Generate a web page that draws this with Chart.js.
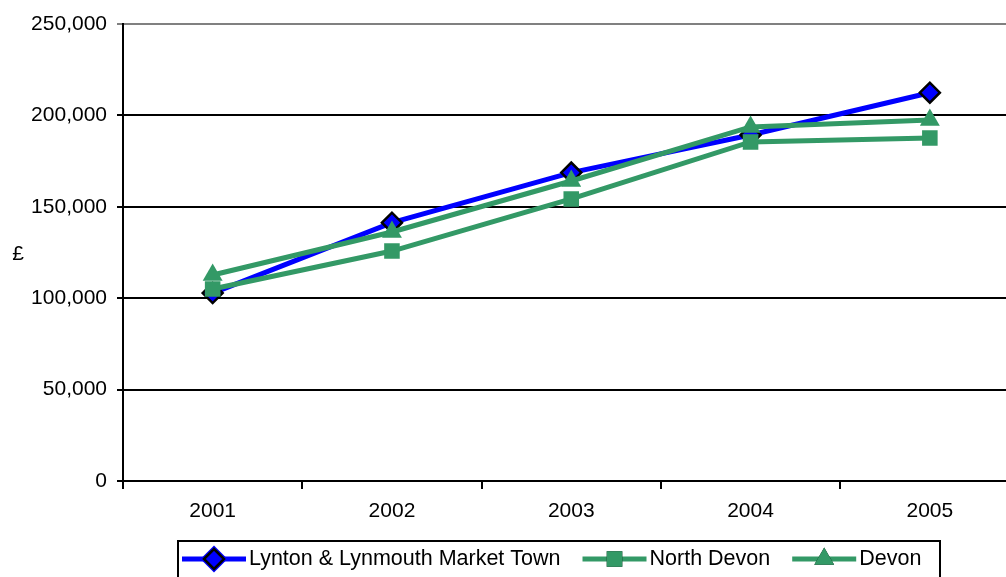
<!DOCTYPE html>
<html><head><meta charset="utf-8">
<script src="https://cdn.jsdelivr.net/npm/chart.js@4/dist/chart.umd.min.js"></script>
<style>
html,body{margin:0;padding:0;background:#fff;overflow:hidden;width:1006px;height:577px;}
#wrap{position:absolute;left:0;top:0;width:1032px;height:577px;}
</style></head>
<body><div id="wrap"><canvas id="c" width="1032" height="577"></canvas></div>
<script>
const years = ['2001','2002','2003','2004','2005'];
const lyntonValues = [102800, 141300, 168700, 189300, 212400];
const northDevonValues = [105000, 125800, 154300, 185500, 187600];
const devonValues = [112700, 136200, 164100, 193700, 197500];
const seriesNames = ['Lynton & Lynmouth Market Town', 'North Devon', 'Devon'];
const yAxisTitle = '£';

const BLUE = '#0000FF', GREEN = '#339966';
const FONT = '"Liberation Sans", Arial, sans-serif';

const legendPlugin = {
  id: 'customLegend',
  afterDraw(chart) {
    const ctx = chart.ctx;
    ctx.save();
    ctx.font = '21px ' + FONT;
    ctx.fillStyle = '#000';
    ctx.textAlign = 'center';
    ctx.textBaseline = 'middle';
    ctx.fillText(yAxisTitle, 18, 254);
    ctx.strokeStyle = '#000';
    ctx.lineWidth = 2;
    ctx.strokeRect(178, 541, 762, 45);
    ctx.font = '21.5px ' + FONT;
    const cy = 559;
    let x = 182;
    ctx.textAlign = 'left';
    chart.data.datasets.forEach((ds, i) => {
      const len = 64;
      ctx.strokeStyle = ds.borderColor;
      ctx.lineWidth = 5;
      ctx.beginPath(); ctx.moveTo(x, cy); ctx.lineTo(x + len, cy); ctx.stroke();
      Chart.helpers.drawPoint(ctx, {
        pointStyle: ds.pointStyle, rotation: 0,
        radius: ds.pointRadius, borderWidth: ds.pointBorderWidth
      }, x + len / 2, cy);
      ctx.fillStyle = ds.pointBackgroundColor;
      ctx.strokeStyle = ds.pointBorderColor;
      ctx.lineWidth = ds.pointBorderWidth;
      ctx.fill();
      if (ds.pointBorderWidth > 0) ctx.stroke();
      ctx.fillStyle = '#000';
      ctx.fillText(ds.label, x + len + 3, cy);
      x += len + 3 + ctx.measureText(ds.label).width + 22;
    });
    ctx.restore();
  }
};

new Chart(document.getElementById('c'), {
  type: 'line',
  data: {
    labels: years,
    datasets: [
      { label: seriesNames[0], data: lyntonValues, borderColor: BLUE, borderWidth: 5,
        pointStyle: 'rectRot', pointRadius: 10, pointBackgroundColor: BLUE,
        pointBorderColor: '#000', pointBorderWidth: 2.5, order: 3, tension: 0 },
      { label: seriesNames[1], data: northDevonValues, borderColor: GREEN, borderWidth: 5,
        pointStyle: 'rect', pointRadius: 11, pointBackgroundColor: GREEN,
        pointBorderColor: GREEN, pointBorderWidth: 0, order: 2, tension: 0 },
      { label: seriesNames[2], data: devonValues, borderColor: GREEN, borderWidth: 5,
        pointStyle: 'triangle', pointRadius: 11.5, pointBackgroundColor: GREEN,
        pointBorderColor: GREEN, pointBorderWidth: 0, order: 1, tension: 0 }
    ]
  },
  options: {
    responsive: false,
    animation: false,
    devicePixelRatio: 1,
    layout: { padding: { left: 0, right: 1, top: 24, bottom: 46 } },
    plugins: { legend: { display: false }, tooltip: { enabled: false } },
    scales: {
      x: {
        offset: true,
        grid: { offset: true, drawOnChartArea: false, color: '#000', lineWidth: 2, tickLength: 8 },
        border: { color: '#000', width: 2 },
        ticks: { color: '#000', font: { family: FONT, size: 21 }, padding: 10, maxRotation: 0 },
        afterFit(s) { s.height = 50; }
      },
      y: {
        min: 0, max: 250000,
        ticks: { stepSize: 50000, color: '#000', font: { family: FONT, size: 21 }, padding: 10,
          callback: v => v.toLocaleString('en-GB') },
        grid: { color: ctx => (ctx.tick && ctx.tick.value === 250000) ? '#808080' : '#000',
          lineWidth: 2, tickLength: 6 },
        border: { color: '#000', width: 2 },
        afterFit(s) { s.width = 123; }
      }
    }
  },
  plugins: [legendPlugin]
});
</script></body></html>
